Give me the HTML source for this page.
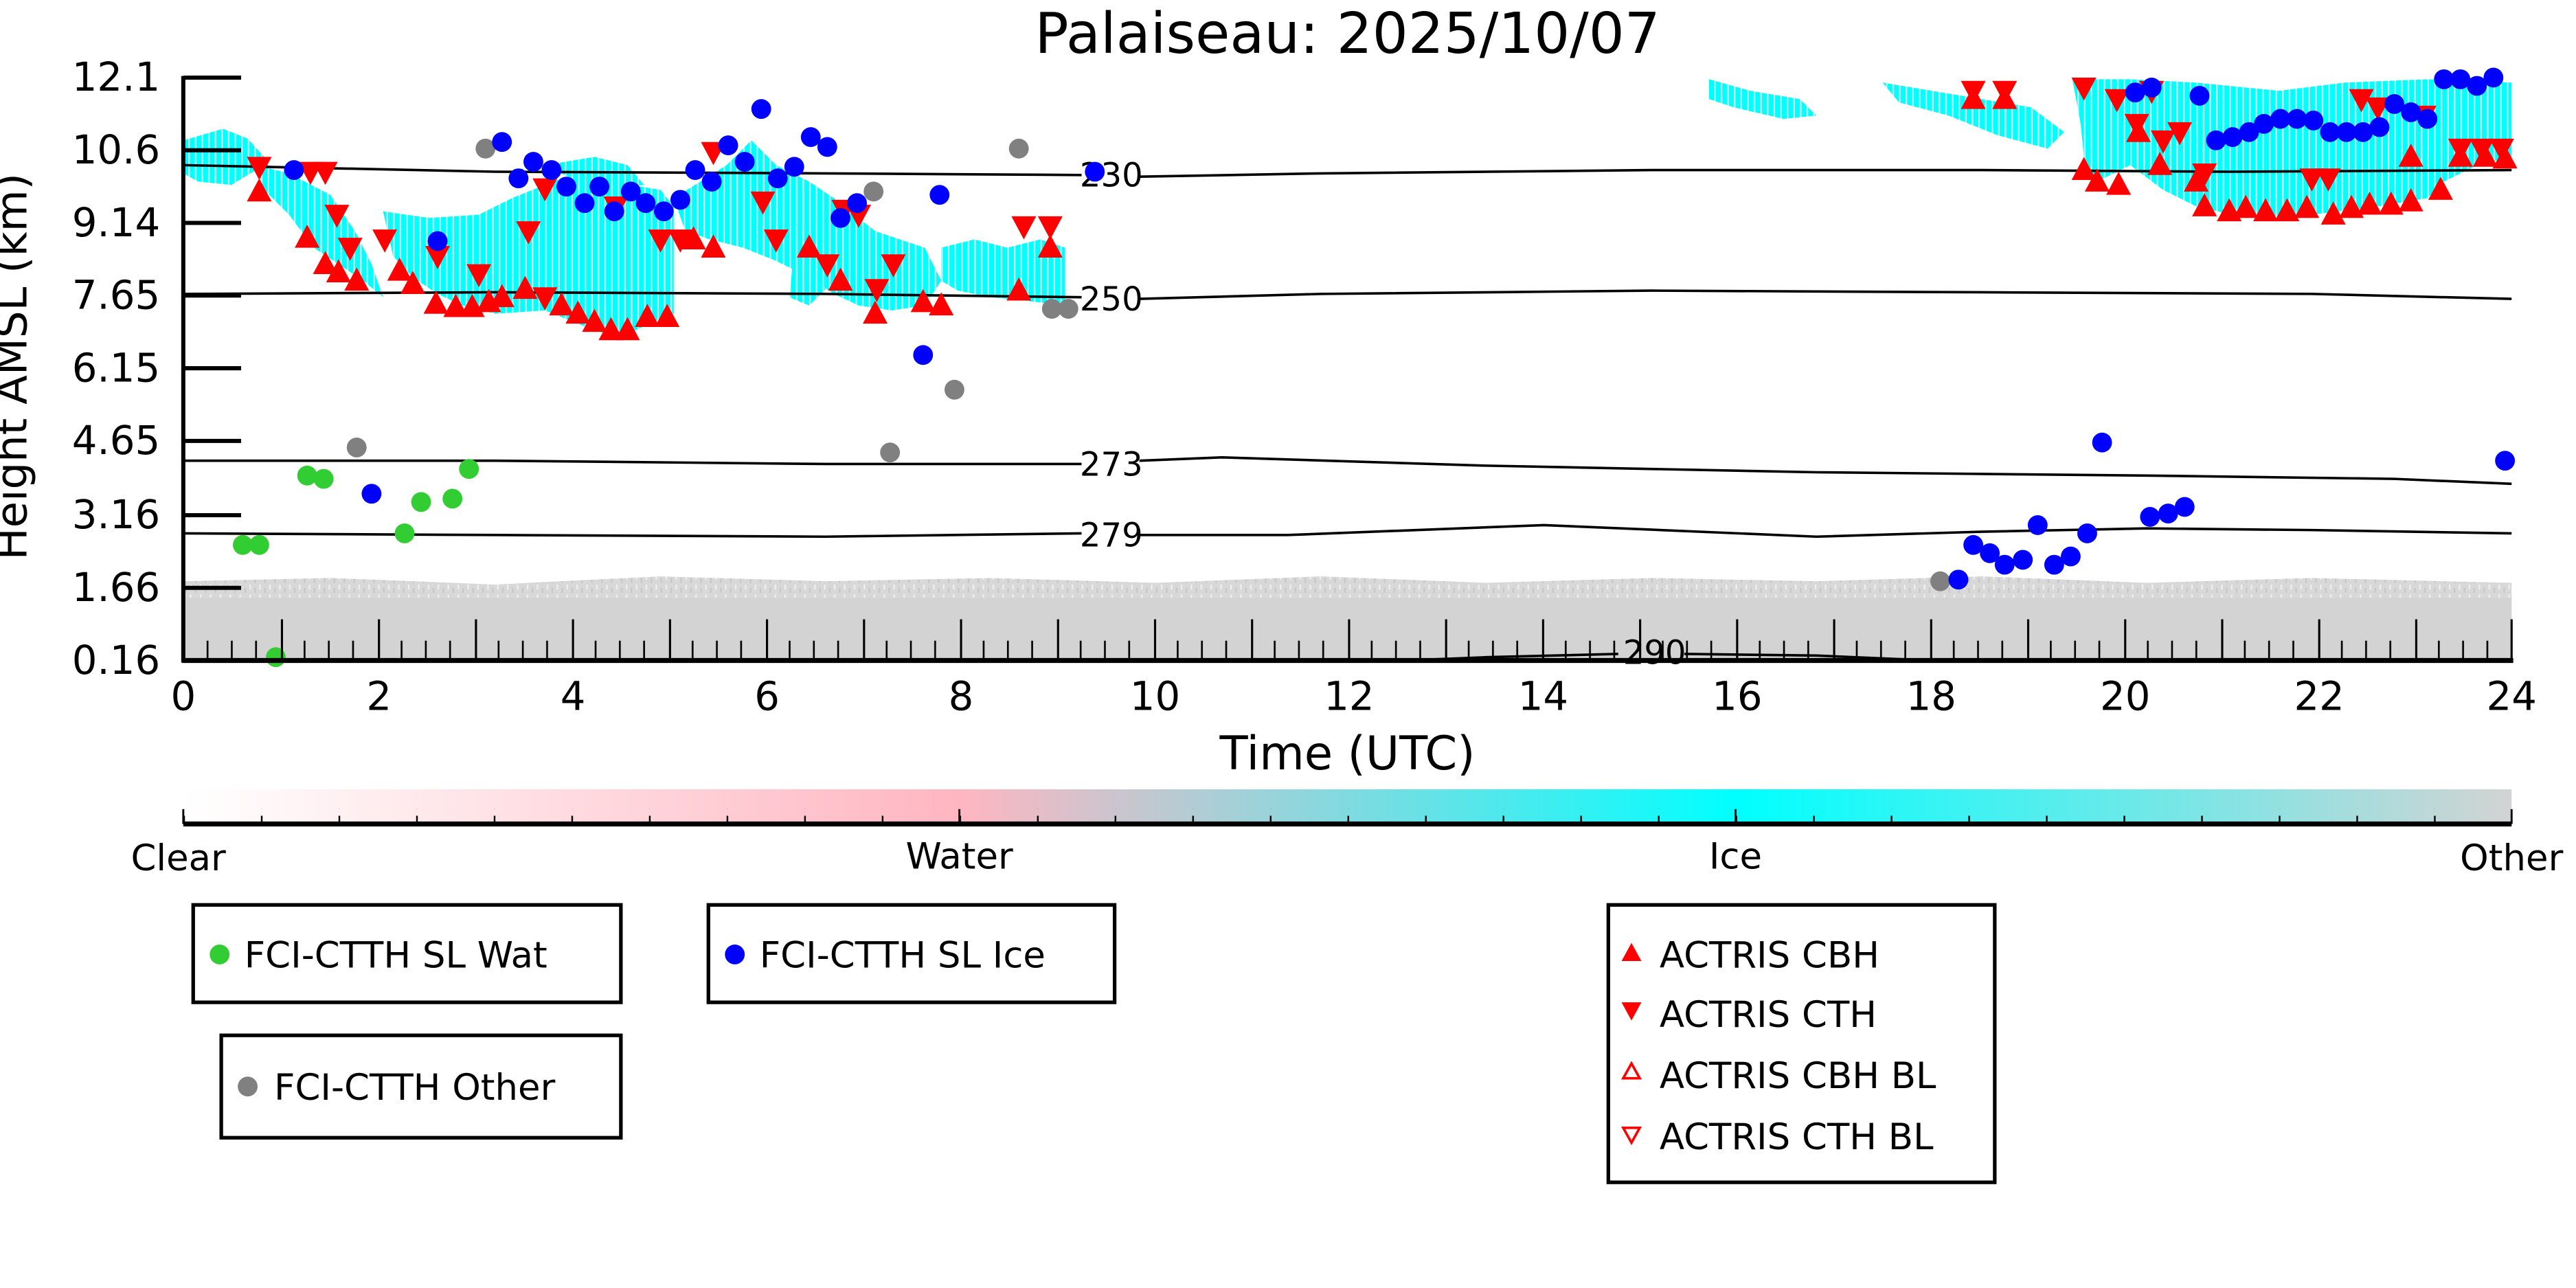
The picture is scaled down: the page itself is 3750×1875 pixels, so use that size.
<!DOCTYPE html>
<html><head><meta charset="utf-8"><style>
html,body{margin:0;padding:0;background:#fff;}
svg{display:block;}
text{font-family:"DejaVu Sans","Liberation Sans",sans-serif;}
</style></head><body>
<svg width="3750" height="1875" viewBox="0 0 1560 780" xmlns="http://www.w3.org/2000/svg">
<defs>
<path id="u" d="M0,-8 L7.5,6 L-7.5,6Z" fill="#ff0000"/>
<path id="d" d="M0,8 L7.5,-6 L-7.5,-6Z" fill="#ff0000"/>
<linearGradient id="cb" x1="0" x2="1" y1="0" y2="0">
<stop offset="0" stop-color="#ffffff"/>
<stop offset="0.333" stop-color="#ffb6c1"/>
<stop offset="0.667" stop-color="#00ffff"/>
<stop offset="1" stop-color="#d3d3d3"/>
</linearGradient>
<pattern id="gr" width="6" height="6" patternUnits="userSpaceOnUse">
<rect width="6" height="6" fill="#d8d8d8"/>
<rect x="1" y="0" width="1" height="3" fill="#eeeeee"/>
<rect x="4" y="2" width="1" height="3" fill="#c8c8c8"/>
</pattern>
<pattern id="cy" width="4" height="8" patternUnits="userSpaceOnUse">
<rect width="4" height="8" fill="#00ffff"/>
<rect x="2" y="0" width="1" height="8" fill="#bfeeee"/>
</pattern>
<pattern id="mt" x="111" y="0" width="58.75" height="400" patternUnits="userSpaceOnUse">
<line x1="14.69" y1="388" x2="14.69" y2="400" stroke="#000" stroke-width="1.1"/>
<line x1="29.375" y1="388" x2="29.375" y2="400" stroke="#000" stroke-width="1.1"/>
<line x1="44.06" y1="388" x2="44.06" y2="400" stroke="#000" stroke-width="1.1"/>
</pattern>
<pattern id="cbt" x="111" y="490" width="47" height="9" patternUnits="userSpaceOnUse">
<line x1="0.5" y1="4" x2="0.5" y2="9" stroke="#000" stroke-width="1"/>
</pattern>
</defs>

<text x="816" y="32" font-size="34" text-anchor="middle">Palaiseau: 2025/10/07</text>

<path d="M111,352 L200,350 L300,354 L400,349 L500,352 L600,350 L700,353 L800,349 L900,353 L1000,350 L1100,352 L1200,349 L1300,353 L1400,350 L1521,353 L1521,400 L111,400Z" fill="url(#gr)"/>
<rect x="111" y="362" width="1410" height="38" fill="#d3d3d3"/>

<g fill="url(#cy)">
<path d="M111,85 L135,78 L150,84 L160,95 L168,110 L180,120 L175,108 L160,100 L140,112 L120,110 L111,105Z"/>
<path d="M155,100 L175,105 L200,118 L215,140 L225,160 L232,180 L220,170 L205,160 L190,150 L175,130 L160,115Z"/>
<path d="M232,128 L260,132 L290,130 L310,120 L340,108 L370,110 L400,115 L408,125 L408,190 L395,195 L375,205 L355,198 L330,188 L300,190 L280,185 L265,178 L250,168 L238,155Z"/>
<path d="M330,100 L360,95 L380,100 L390,112 L360,115Z"/>
<path d="M408,120 L440,100 L455,85 L470,100 L490,110 L505,120 L530,140 L560,150 L570,170 L560,185 L540,188 L520,185 L505,178 L490,168 L470,158 L450,150 L430,145 L415,140Z"/>
<path d="M570,150 L590,145 L610,150 L630,145 L645,150 L645,185 L620,182 L600,180 L580,176 L570,170Z"/>
<path d="M480,160 L500,175 L490,185 L478,180Z"/>
<path d="M1035,48 L1060,55 L1090,60 L1100,70 L1080,72 L1050,65 L1035,60Z"/>
<path d="M1140,50 L1170,55 L1200,60 L1230,65 L1250,80 L1240,90 L1210,82 L1180,70 L1150,62Z"/>
<path d="M1255,48 L1290,48 L1330,50 L1380,55 L1420,50 L1470,48 L1521,50 L1521,95 L1500,100 L1480,110 L1470,120 L1440,125 L1400,130 L1360,132 L1330,125 L1310,115 L1290,100 L1270,110 L1262,95 L1260,75Z"/>
</g>

<g fill="none" stroke="#000" stroke-width="1.5">
<path d="M111,100 L300,104 L500,105 L655,106"/><path d="M690,107 L800,105 L1000,103 L1200,103 L1350,104 L1521,103"/>
<path d="M111,178 L300,177 L500,178 L655,180"/><path d="M690,181 L800,178 L1000,176 L1200,177 L1400,178 L1521,181"/>
<path d="M111,279 L300,279 L500,281 L655,281"/><path d="M690,279 L740,277 L900,282 L1100,286 L1300,288 L1450,290 L1521,293"/>
<path d="M111,323 L300,324 L500,325 L655,323"/><path d="M690,324 L780,324 L935,318 L1100,325 L1200,322 L1300,320 L1400,321 L1521,323"/>
<path d="M850,400 L900,398 L980,396"/><path d="M1020,396 L1100,397 L1170,400"/>
</g>
<g font-size="20" text-anchor="middle">
<text x="673" y="113">230</text><text x="673" y="188">250</text>
<text x="673" y="288">273</text><text x="673" y="331">279</text>
<text x="1002" y="402">290</text>
</g>

<g>
<use href="#d" x="157" y="101"/><use href="#u" x="157" y="116"/>
<use href="#d" x="188" y="104"/><use href="#d" x="197" y="104"/><use href="#u" x="186" y="144"/>
<use href="#d" x="204" y="130"/><use href="#u" x="197" y="160"/><use href="#d" x="212" y="150"/><use href="#u" x="205" y="165"/><use href="#u" x="216" y="170"/>
<use href="#d" x="233" y="145"/><use href="#u" x="242" y="164"/><use href="#u" x="250" y="172"/>
<use href="#d" x="265" y="155"/><use href="#u" x="264" y="184"/><use href="#u" x="276" y="186"/><use href="#u" x="286" y="186"/>
<use href="#u" x="296" y="183"/><use href="#u" x="304" y="180"/><use href="#d" x="290" y="166"/>
<use href="#d" x="320" y="140"/><use href="#u" x="318" y="175"/><use href="#d" x="330" y="180"/><use href="#u" x="340" y="185"/>
<use href="#d" x="330" y="114"/><use href="#u" x="350" y="190"/><use href="#u" x="360" y="195"/><use href="#u" x="370" y="200"/><use href="#u" x="380" y="200"/><use href="#d" x="373" y="125"/>
<use href="#u" x="392" y="192"/><use href="#u" x="404" y="192"/><use href="#d" x="400" y="145"/><use href="#d" x="412" y="145"/><use href="#u" x="420" y="145"/>
<use href="#d" x="432" y="92"/><use href="#u" x="432" y="150"/><use href="#d" x="462" y="122"/><use href="#d" x="470" y="145"/>
<use href="#u" x="490" y="150"/><use href="#d" x="501" y="160"/><use href="#u" x="509" y="170"/><use href="#d" x="511" y="127"/><use href="#d" x="520" y="130"/>
<use href="#d" x="531" y="175"/><use href="#u" x="530" y="190"/><use href="#d" x="541" y="160"/><use href="#u" x="559" y="183"/><use href="#u" x="570" y="185"/>
<use href="#d" x="620" y="137"/><use href="#d" x="636" y="137"/><use href="#u" x="636" y="150"/><use href="#u" x="617" y="176"/>
<use href="#d" x="1195" y="55"/><use href="#u" x="1195" y="60"/><use href="#d" x="1214" y="55"/><use href="#u" x="1214" y="60"/>
<use href="#d" x="1262" y="53"/><use href="#u" x="1262" y="103"/><use href="#u" x="1270" y="110"/><use href="#u" x="1283" y="112"/>
<use href="#d" x="1282" y="60"/><use href="#d" x="1294" y="75"/><use href="#u" x="1295" y="80"/><use href="#d" x="1303" y="55"/><use href="#d" x="1310" y="85"/>
<use href="#u" x="1308" y="100"/><use href="#d" x="1320" y="80"/><use href="#u" x="1330" y="110"/><use href="#d" x="1335" y="105"/>
<use href="#u" x="1335" y="125"/><use href="#u" x="1350" y="128"/><use href="#u" x="1360" y="126"/><use href="#u" x="1372" y="128"/>
<use href="#u" x="1385" y="128"/><use href="#u" x="1397" y="126"/><use href="#u" x="1413" y="130"/><use href="#u" x="1424" y="126"/>
<use href="#u" x="1435" y="124"/><use href="#u" x="1448" y="124"/><use href="#u" x="1460" y="122"/><use href="#u" x="1478" y="115"/>
<use href="#d" x="1400" y="108"/><use href="#d" x="1410" y="108"/><use href="#d" x="1430" y="60"/><use href="#d" x="1440" y="65"/>
<use href="#d" x="1468" y="70"/><use href="#u" x="1460" y="95"/><use href="#d" x="1490" y="90"/><use href="#u" x="1490" y="95"/>
<use href="#d" x="1503" y="90"/><use href="#u" x="1505" y="95"/><use href="#d" x="1515" y="90"/><use href="#u" x="1517" y="96"/>
</g>

<g fill="#808080">
<circle cx="216" cy="271" r="6"/><circle cx="294" cy="90" r="6"/><circle cx="529" cy="116" r="6"/><circle cx="539" cy="274" r="6"/>
<circle cx="578" cy="236" r="6"/><circle cx="617" cy="90" r="6"/><circle cx="637" cy="187" r="6"/><circle cx="647" cy="187" r="6"/><circle cx="1175" cy="352" r="6"/>
</g>
<g fill="#32cd32">
<circle cx="147" cy="330" r="6"/><circle cx="157" cy="330" r="6"/><circle cx="167" cy="398" r="6"/><circle cx="186" cy="288" r="6"/>
<circle cx="196" cy="290" r="6"/><circle cx="245" cy="323" r="6"/><circle cx="255" cy="304" r="6"/><circle cx="274" cy="302" r="6"/><circle cx="284" cy="284" r="6"/>
</g>
<g fill="#0000ff">
<circle cx="178" cy="103" r="6"/><circle cx="225" cy="299" r="6"/><circle cx="265" cy="146" r="6"/><circle cx="304" cy="86" r="6"/>
<circle cx="314" cy="108" r="6"/><circle cx="323" cy="98" r="6"/><circle cx="334" cy="103" r="6"/><circle cx="343" cy="113" r="6"/>
<circle cx="354" cy="123" r="6"/><circle cx="363" cy="113" r="6"/><circle cx="372" cy="128" r="6"/><circle cx="382" cy="116" r="6"/>
<circle cx="391" cy="123" r="6"/><circle cx="402" cy="128" r="6"/><circle cx="412" cy="121" r="6"/><circle cx="421" cy="103" r="6"/>
<circle cx="431" cy="110" r="6"/><circle cx="441" cy="88" r="6"/><circle cx="451" cy="98" r="6"/><circle cx="461" cy="66" r="6"/>
<circle cx="471" cy="108" r="6"/><circle cx="481" cy="101" r="6"/><circle cx="491" cy="83" r="6"/><circle cx="501" cy="89" r="6"/>
<circle cx="509" cy="132" r="6"/><circle cx="519" cy="123" r="6"/><circle cx="559" cy="215" r="6"/><circle cx="569" cy="118" r="6"/><circle cx="663" cy="104" r="6"/>
<circle cx="1186" cy="351" r="6"/><circle cx="1195" cy="330" r="6"/><circle cx="1205" cy="335" r="6"/><circle cx="1214" cy="342" r="6"/>
<circle cx="1225" cy="339" r="6"/><circle cx="1234" cy="318" r="6"/><circle cx="1244" cy="342" r="6"/><circle cx="1254" cy="337" r="6"/>
<circle cx="1264" cy="323" r="6"/><circle cx="1273" cy="268" r="6"/><circle cx="1302" cy="313" r="6"/><circle cx="1313" cy="311" r="6"/><circle cx="1323" cy="307" r="6"/>
<circle cx="1293" cy="56" r="6"/><circle cx="1303" cy="53" r="6"/><circle cx="1332" cy="58" r="6"/><circle cx="1342" cy="85" r="6"/>
<circle cx="1352" cy="83" r="6"/><circle cx="1362" cy="80" r="6"/><circle cx="1371" cy="75" r="6"/><circle cx="1381" cy="72" r="6"/>
<circle cx="1391" cy="72" r="6"/><circle cx="1401" cy="73" r="6"/><circle cx="1411" cy="80" r="6"/><circle cx="1421" cy="80" r="6"/>
<circle cx="1431" cy="80" r="6"/><circle cx="1441" cy="77" r="6"/><circle cx="1450" cy="63" r="6"/><circle cx="1460" cy="68" r="6"/>
<circle cx="1470" cy="72" r="6"/><circle cx="1480" cy="48" r="6"/><circle cx="1490" cy="48" r="6"/><circle cx="1500" cy="52" r="6"/><circle cx="1510" cy="47" r="6"/>
<circle cx="1517" cy="279" r="6"/>
</g>

<g stroke="#000">
<line x1="111" y1="46" x2="111" y2="401" stroke-width="2.5"/>
<line x1="110" y1="400" x2="1522" y2="400" stroke-width="3"/>
<g stroke-width="2.5">
<line x1="111" y1="47" x2="146" y2="47"/><line x1="111" y1="91" x2="146" y2="91"/><line x1="111" y1="135" x2="146" y2="135"/>
<line x1="111" y1="179" x2="146" y2="179"/><line x1="111" y1="223" x2="146" y2="223"/><line x1="111" y1="267" x2="146" y2="267"/>
<line x1="111" y1="312" x2="146" y2="312"/><line x1="111" y1="356" x2="146" y2="356"/>
</g>
</g>
<g stroke="#000" stroke-width="1.3">
<path d="M170.75,400v-25M229.5,400v-25M288.25,400v-25M347,400v-25M405.75,400v-25M464.5,400v-25M523.25,400v-25M582,400v-25M640.75,400v-25M699.5,400v-25M758.25,400v-25M817,400v-25M875.75,400v-25M934.5,400v-25M993.25,400v-25M1052,400v-25M1110.75,400v-25M1169.5,400v-25M1228.25,400v-25M1287,400v-25M1345.75,400v-25M1404.5,400v-25M1463.25,400v-25M1521,400v-25"/>
</g>
<rect x="111" y="386" width="1410" height="14" fill="url(#mt)"/>

<g font-size="24" text-anchor="end">
<text x="97" y="55">12.1</text><text x="97" y="99">10.6</text><text x="97" y="143">9.14</text><text x="97" y="187">7.65</text>
<text x="97" y="231">6.15</text><text x="97" y="275">4.65</text><text x="97" y="320">3.16</text><text x="97" y="364">1.66</text><text x="97" y="408">0.16</text>
</g>
<g font-size="24" text-anchor="middle">
<text x="111" y="430">0</text><text x="229.5" y="430">2</text><text x="347" y="430">4</text><text x="464.5" y="430">6</text>
<text x="582" y="430">8</text><text x="699.5" y="430">10</text><text x="817" y="430">12</text><text x="934.5" y="430">14</text>
<text x="1052" y="430">16</text><text x="1169.5" y="430">18</text><text x="1287" y="430">20</text><text x="1404.5" y="430">22</text><text x="1521" y="430">24</text>
</g>
<text x="816" y="466" font-size="28" text-anchor="middle">Time (UTC)</text>
<text transform="translate(16,222) rotate(-90)" font-size="26" text-anchor="middle">Height AMSL (km)</text>

<rect x="111" y="478" width="1410" height="21" fill="url(#cb)"/>
<line x1="111" y1="499" x2="1521" y2="499" stroke="#000" stroke-width="3"/>
<rect x="111" y="490" width="1410" height="9" fill="url(#cbt)"/>
<g stroke="#000" stroke-width="1.2">
<line x1="111" y1="490" x2="111" y2="499"/><line x1="581" y1="490" x2="581" y2="499"/><line x1="1051" y1="490" x2="1051" y2="499"/><line x1="1521" y1="490" x2="1521" y2="499"/>
</g>
<g font-size="22" text-anchor="middle">
<text x="108" y="527">Clear</text><text x="581" y="526">Water</text><text x="1051" y="526">Ice</text><text x="1521" y="527">Other</text>
</g>

<g fill="none" stroke="#000" stroke-width="2.2">
<rect x="117" y="548" width="259" height="59"/>
<rect x="429" y="548" width="246" height="59"/>
<rect x="134" y="627" width="242" height="62"/>
<rect x="974" y="548" width="234" height="168"/>
</g>
<g font-size="22">
<circle cx="133" cy="578" r="6" fill="#32cd32"/><text x="148" y="586">FCI-CTTH SL Wat</text>
<circle cx="445" cy="578" r="6" fill="#0000ff"/><text x="460" y="586">FCI-CTTH SL Ice</text>
<circle cx="150" cy="658" r="6" fill="#808080"/><text x="166" y="666">FCI-CTTH Other</text>
<path d="M988,571 L994,582 L982,582Z" fill="#f00"/><text x="1005" y="586">ACTRIS CBH</text>
<path d="M988,618 L994,607 L982,607Z" fill="#f00"/><text x="1005" y="622">ACTRIS CTH</text>
<path d="M988,644 L993,653 L983,653Z" fill="none" stroke="#f00" stroke-width="1.5"/><text x="1005" y="659">ACTRIS CBH BL</text>
<path d="M988,692 L993,683 L983,683Z" fill="none" stroke="#f00" stroke-width="1.5"/><text x="1005" y="696">ACTRIS CTH BL</text>
</g>
</svg>
</body></html>
